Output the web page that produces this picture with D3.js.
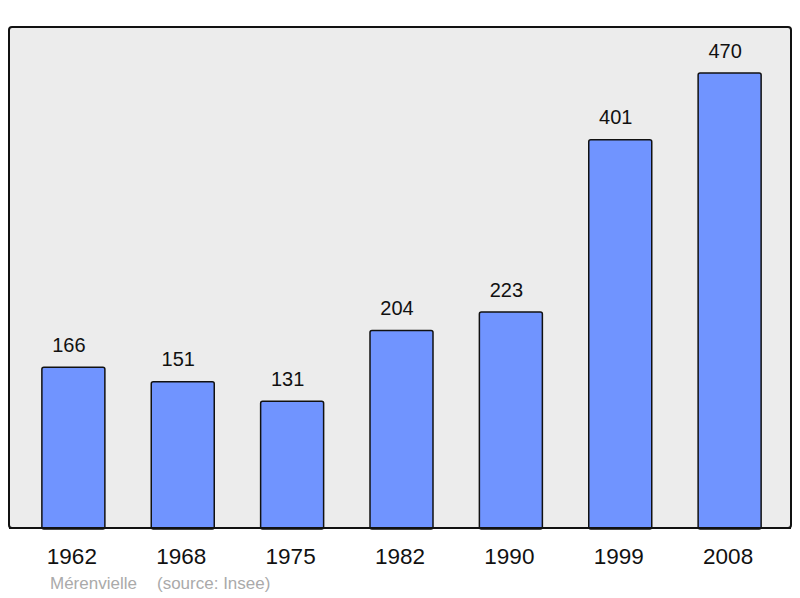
<!DOCTYPE html>
<html>
<head>
<meta charset="utf-8">
<script src="https://cdn.jsdelivr.net/npm/d3@7"></script>
<style>
  body { margin: 0; background: #fff; }
  text { font-family: "Liberation Sans", Arial, sans-serif; }
</style>
</head>
<body>
<div id="wrapper"></div>
<script>
// population by census year
const years = ["1962", "1968", "1975", "1982", "1990", "1999", "2008"]
const population = [166, 151, 131, 204, 223, 401, 470]
const commune = "Mérenvielle"
const source = "(source: Insee)"

const width = 800
const height = 598
const panel = { left: 9, top: 27, right: 791, bottom: 528 }

const svg = d3.select("#wrapper")
  .append("svg")
  .attr("width", width)
  .attr("height", height)

// grey plotting panel
svg.append("rect")
  .attr("x", panel.left)
  .attr("y", panel.top)
  .attr("width", panel.right - panel.left)
  .attr("height", panel.bottom - panel.top)
  .attr("rx", 3)
  .attr("fill", "#ececec")
  .attr("stroke", "#111")
  .attr("stroke-width", 2)

const x = d3.scaleBand()
  .domain(years)
  .range([20, 783])
  .paddingInner(0.424)
  .paddingOuter(0.2)

const y = d3.scaleLinear()
  .domain([0, 470])
  .range([panel.bottom, 73])

const data = years.map((yr, i) => ({ year: yr, value: population[i] }))

svg.selectAll(".bar")
  .data(data)
  .enter().append("rect")
  .attr("class", "bar")
  .attr("x", d => x(d.year))
  .attr("y", d => y(d.value))
  .attr("width", x.bandwidth())
  .attr("height", d => y(0) - y(d.value) + 1)
  .attr("rx", 2)
  .attr("fill", "#7094ff")
  .attr("stroke", "#111")
  .attr("stroke-width", 1.5)

// value labels above bars (sit a little left of centre in the original)
svg.selectAll(".value")
  .data(data)
  .enter().append("text")
  .attr("class", "value")
  .attr("x", d => x(d.year) + x.bandwidth() / 2 - 4.5)
  .attr("y", d => y(d.value) - 15.5)
  .attr("text-anchor", "middle")
  .attr("font-size", 20)
  .attr("fill", "#111")
  .text(d => d.value)

svg.append("line")
  .attr("x1", panel.left)
  .attr("x2", panel.right)
  .attr("y1", panel.bottom)
  .attr("y2", panel.bottom)
  .attr("stroke", "#111")
  .attr("stroke-width", 2)

// year labels
svg.selectAll(".year")
  .data(years)
  .enter().append("text")
  .attr("class", "year")
  .attr("x", d => x(d) + x.bandwidth() / 2 - 1.5)
  .attr("y", 564)
  .attr("text-anchor", "middle")
  .attr("font-size", 22.5)
  .attr("fill", "#111")
  .text(d => d)

svg.append("text")
  .attr("x", 50)
  .attr("y", 589)
  .attr("font-size", 17)
  .attr("fill", "#aaa")
  .text(commune)

svg.append("text")
  .attr("x", 157)
  .attr("y", 589)
  .attr("font-size", 17)
  .attr("fill", "#aaa")
  .text(source)
</script>
</body>
</html>
